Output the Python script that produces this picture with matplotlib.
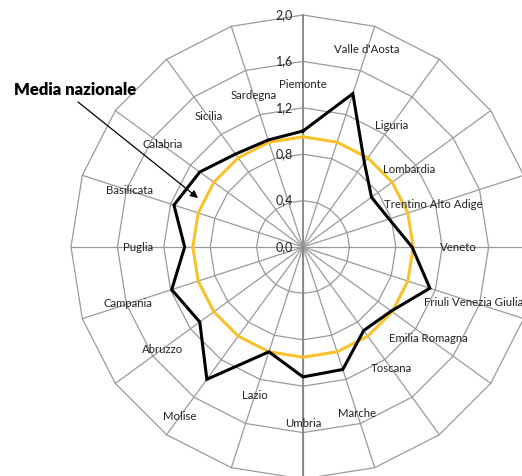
import numpy as np
import matplotlib
matplotlib.use("Agg")
import matplotlib.pyplot as plt

regions = ["Piemonte", "Valle d'Aosta", "Liguria", "Lombardia", "Trentino Alto Adige",
           "Veneto", "Friuli Venezia Giulia", "Emilia Romagna", "Toscana", "Marche",
           "Umbria", "Lazio", "Molise", "Abruzzo", "Campania", "Puglia", "Basilicata",
           "Calabria", "Sicilia", "Sardegna"]
valori = [1.00, 1.39, 0.90, 0.73, 0.78, 0.94, 1.15, 0.94, 0.89, 1.11,
          1.12, 0.95, 1.41, 1.10, 1.19, 1.02, 1.17, 1.10, 0.99, 0.97]
media = [0.95] * 20
ticks = [0.0, 0.4, 0.8, 1.2, 1.6, 2.0]
tick_labels = ["0,0", "0,4", "0,8", "1,2", "1,6", "2,0"]

W, H = 522, 476
cx, cy, scale = 303, 247, 116.0

fig = plt.figure(figsize=(W / 100, H / 100), dpi=100)
ax = fig.add_axes([0, 0, 1, 1])
ax.set_xlim(-cx / scale, (W - cx) / scale)
ax.set_ylim(-(H - cy) / scale, cy / scale)
ax.set_aspect("equal")
ax.axis("off")

n = len(regions)
theta = np.arange(n) * 2 * np.pi / n

def xy(r):
    r = np.asarray(r, dtype=float)
    return r * np.sin(theta), r * np.cos(theta)

grid_c = "#9a9a9a"
rmax = ticks[-1]
# rings
for t in ticks[1:]:
    x, y = xy([t] * n)
    ax.plot(np.append(x, x[0]), np.append(y, y[0]), color=grid_c, lw=0.9, zorder=1)
# spokes
for th in theta:
    lw = 1.4 if th == 0 else 0.9
    c = "#8a8a8a" if th == 0 else grid_c
    ax.plot([0, rmax * np.sin(th)], [0, rmax * np.cos(th)], color=c, lw=lw, zorder=1)
ax.plot([0, 0], [0, -rmax], color="#8a8a8a", lw=1.4, zorder=1)

# tick labels
for t, lab in zip(ticks, tick_labels):
    ax.text(-10 / scale, t, lab, ha="right", va="center", fontsize=9,
            family="Lato", color="#222222", zorder=3)

# series
x, y = xy(media)
ax.plot(np.append(x, x[0]), np.append(y, y[0]), color="#F7C22C", lw=2.2, zorder=2,
        solid_joinstyle="miter")
x, y = xy(valori)
ax.plot(np.append(x, x[0]), np.append(y, y[0]), color="black", lw=2.2, zorder=2.5,
        solid_joinstyle="miter")

# category labels near the data points
lx, ly = xy(np.array(valori) + 0.40)
for name, a, b in zip(regions, lx, ly):
    ax.text(a, b, name, ha="center", va="center", fontsize=8.2, family="Lato",
            color="#222222", zorder=4)

# annotation
def px(p, q):
    return (p - cx) / scale, (cy - q) / scale

ax.annotate("", xy=px(198, 198), xytext=px(78, 102),
            arrowprops=dict(arrowstyle="-|>", color="black", lw=0.9, mutation_scale=11,
                            shrinkA=0, shrinkB=0), zorder=5)
ax.text(*px(75, 90), "Media nazionale", ha="center", va="center", fontsize=12,
        family="Lato", weight="heavy", color="black", zorder=5)

fig.savefig("out.png", dpi=100)
